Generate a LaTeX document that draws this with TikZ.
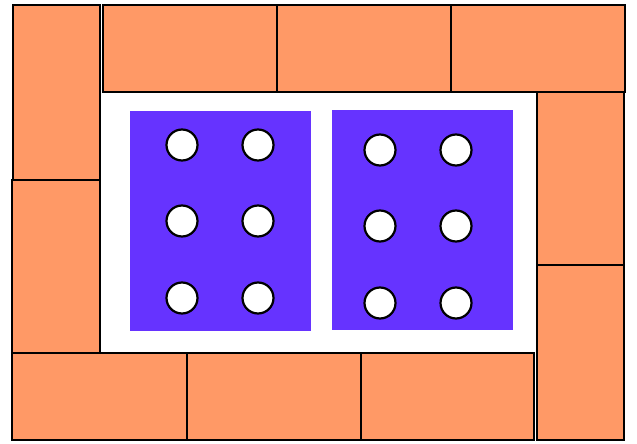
\documentclass[tikz,border=0pt]{standalone}
\usepackage{tikz}

\definecolor{brickorange}{HTML}{FF9966}
\definecolor{trayviolet}{HTML}{6633FF}

\begin{document}
\begin{tikzpicture}[
      x=1pt,y=-1pt,
      brick/.style={draw=black,fill=brickorange,line width=1.8pt},
      tray/.style={fill=trayviolet},
      hole/.style={draw=black,fill=white,line width=2.2pt}]
    \useasboundingbox (0,0) rectangle (637,444);

    % left column
    \draw[brick] (13,5) rectangle (100,180);
    \draw[brick] (12,180) rectangle (100,353);
    % top row
    \draw[brick] (103,5) rectangle (277,92);
    \draw[brick] (277,5) rectangle (451,92);
    \draw[brick] (451,5) rectangle (625,92);
    % right column
    \draw[brick] (537,92) rectangle (624,265);
    \draw[brick] (537,265) rectangle (624,440);
    % bottom row
    \draw[brick] (12,353) rectangle (187,440);
    \draw[brick] (187,353) rectangle (361,440);
    \draw[brick] (361,353) rectangle (534,440);

    % trays
    \fill[tray] (130,111) rectangle (311,331);
    \fill[tray] (332,110) rectangle (513,330);

    % holes
    \foreach \x in {182,258}
      \foreach \y in {145,221,298}
        \draw[hole] (\x,\y) circle (15.5);
    \foreach \x in {380,456}
      \foreach \y in {150,226,303}
        \draw[hole] (\x,\y) circle (15.5);
  \end{tikzpicture}
\end{document}
